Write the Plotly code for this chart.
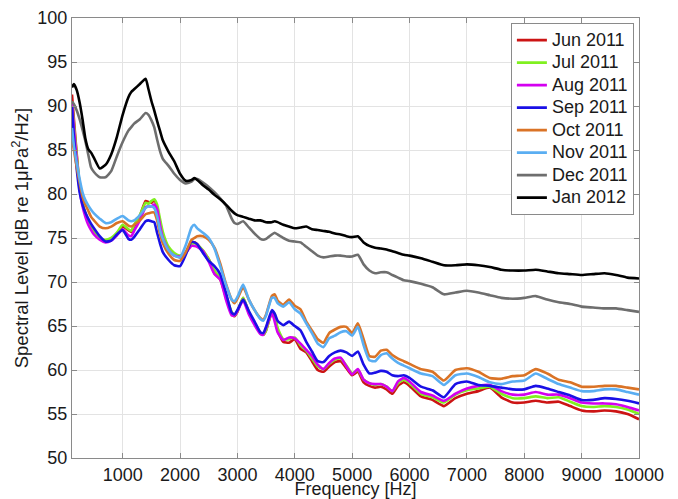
import plotly.graph_objects as go

freq_hz = [117, 150, 200, 250, 300, 350, 400, 450, 500,
           600, 700, 800, 900, 1000,
           1100, 1150, 1200, 1300,
           1400, 1450, 1500, 1550, 1600, 1650, 1700,
           1800, 1900, 2000, 2100, 2200, 2250, 2300,
           2400, 2500, 2600, 2700, 2800, 2900, 2950,
           3000, 3100, 3200, 3300, 3400, 3450, 3500, 3600, 3650,
           3700, 3800, 3900, 4000, 4100, 4200, 4300, 4400, 4500, 4600,
           4700, 4800, 4900, 5000, 5100, 5200, 5300, 5400, 5500, 5600,
           5700, 5800, 5900, 6000,
           6200, 6400, 6600, 6800, 7000, 7200, 7400, 7600, 7800, 8000,
           8200, 8400, 8600, 8800, 9000, 9200, 9400, 9600, 9800, 10000]

series_names = ["Jun 2011", "Jul 2011", "Aug 2011", "Sep 2011",
                "Oct 2011", "Nov 2011", "Dec 2011", "Jan 2012"]

jun_2011 = [91.3, 88.5, 84.5, 81.0, 79.0, 77.8, 77.0, 76.3, 75.8,
            75.0, 74.6, 74.8, 75.5, 76.3,
            75.9, 75.7, 76.3, 77.5,
            79.2, 79.1, 79.0, 79.3, 78.5, 76.8, 75.3,
            73.8, 73.2, 72.8, 73.3, 74.3, 74.5, 74.3,
            73.5, 72.6, 71.0, 70.3, 68.3, 66.5, 66.1,
            66.6, 68.2, 66.5, 65.3, 64.2, 64.0, 64.5, 66.5, 66.2,
            64.5, 63.2, 63.1, 63.5, 62.4, 62.0, 61.0, 60.0, 59.8, 60.4,
            60.9, 61.0, 60.2, 59.4, 59.8, 58.6, 58.2, 58.0, 58.1, 57.8,
            57.3, 58.2, 58.6, 58.2,
            57.0, 56.6, 55.9, 56.8, 57.3, 57.6, 58.0, 56.9, 56.3, 56.3,
            56.5, 56.3, 56.4, 55.9, 55.4, 55.3, 55.4, 55.3, 55.0, 54.4]

jul_2011 = [90.5, 88.0, 84.3, 81.0, 79.0, 77.8, 77.0, 76.3, 75.8,
            75.0, 74.8, 75.0, 75.6, 76.5,
            76.0, 75.8, 76.5, 77.6,
            79.0, 78.9, 79.2, 79.4, 78.8, 77.2, 75.7,
            74.0, 73.3, 73.0, 73.4, 74.3, 74.4, 74.2,
            73.6, 72.6, 71.3, 70.5, 68.5, 66.6, 66.2,
            66.7, 68.2, 66.6, 65.3, 64.2, 64.0, 64.5, 66.6, 66.4,
            64.8, 63.5, 63.5, 63.7, 62.8, 62.2, 61.3, 60.4, 60.1, 60.7,
            61.2, 61.3, 60.5, 59.6, 60.0, 58.9, 58.5, 58.3, 58.4, 58.1,
            57.6, 58.5, 58.9, 58.5,
            57.3, 56.9, 56.3, 57.2, 57.7, 57.9, 58.1, 57.3, 56.8, 56.8,
            57.0, 56.8, 56.9, 56.4, 55.9, 55.8, 55.9, 55.8, 55.5, 55.0]

aug_2011 = [90.3, 87.5, 83.8, 80.6, 78.6, 77.4, 76.5, 75.9, 75.4,
            74.8, 74.5, 74.7, 75.3, 76.0,
            75.3, 75.2, 75.8, 77.0,
            78.5, 78.6, 78.6, 78.8, 78.3, 76.5, 75.0,
            73.6, 73.0, 72.9, 73.3, 74.1, 74.1, 74.0,
            73.5, 72.3, 70.9, 70.3, 68.0, 66.2, 66.2,
            66.7, 67.9, 66.3, 65.1, 64.1, 64.0, 64.8, 66.5, 65.5,
            64.3, 63.4, 63.7, 63.6, 63.0, 62.3, 61.6, 60.6, 60.1, 60.8,
            61.3, 61.4, 60.4, 59.5, 60.1, 58.9, 58.5, 58.4, 58.4, 58.1,
            57.6, 58.7, 59.1, 58.7,
            57.5, 57.1, 56.5, 57.3, 57.9, 58.2, 58.3, 57.6, 57.2, 57.2,
            57.5, 57.2, 57.2, 56.8, 56.3, 56.2, 56.2, 56.1, 55.8, 55.4]

sep_2011 = [89.9, 86.5, 82.8, 80.2, 78.8, 77.9, 77.2, 76.6, 76.1,
            75.2, 74.6, 74.7, 75.4, 75.9,
            74.9, 74.8, 75.1, 76.0,
            76.9, 77.0, 76.9, 76.8, 75.6, 74.4, 73.4,
            72.5, 71.9, 71.8, 73.1, 74.6, 74.5, 74.3,
            73.3, 72.4, 71.8, 70.9, 68.8, 66.5, 66.3,
            66.8, 68.0, 66.7, 65.5, 64.3, 64.2, 64.9, 66.8, 66.4,
            65.6, 65.1, 65.5, 65.0, 64.5, 63.2, 62.1, 61.0, 60.9, 61.6,
            62.0, 62.2, 62.0, 61.6, 62.1, 60.6, 59.6, 59.7, 59.9, 59.8,
            59.4, 59.3, 59.4, 59.1,
            58.1, 57.7, 56.9, 58.4, 58.7, 58.3, 58.2, 58.0, 57.8, 57.8,
            58.2, 57.9, 57.5, 57.1, 56.6, 56.6, 56.8, 56.7, 56.5, 56.2]

oct_2011 = [86.4, 85.0, 83.0, 81.3, 79.7, 78.8, 78.1, 77.4, 77.0,
            76.3, 76.1, 76.3, 76.7, 76.9,
            76.4, 76.3, 76.5, 77.0,
            77.7, 77.8, 77.9, 77.9, 77.0, 75.5, 74.4,
            73.2, 72.5, 72.4, 73.4, 74.8, 75.0, 75.2,
            75.2, 74.8, 73.9, 72.1, 69.8, 68.0, 67.6,
            68.1, 69.4, 68.0, 66.8, 65.9, 65.7, 66.3, 68.4, 68.6,
            67.9, 67.4, 68.0, 67.3, 66.9, 65.5, 64.5, 63.5, 63.1, 64.2,
            64.6, 64.9, 64.9, 64.2, 65.3, 63.5, 61.6, 61.5, 62.2, 62.3,
            61.7, 61.3, 61.0, 60.7,
            60.1, 59.8, 58.8, 60.0, 60.2, 59.8, 59.1, 59.0, 59.3, 59.4,
            60.1, 59.6, 58.9, 58.6, 58.1, 58.1, 58.2, 58.2, 58.0, 57.8]

nov_2011 = [87.5, 85.5, 83.5, 81.7, 80.2, 79.3, 78.7, 78.2, 77.8,
            77.2, 76.7, 76.8, 77.2, 77.5,
            77.0, 76.9, 77.0, 77.6,
            78.4, 78.6, 78.6, 78.4, 77.5, 75.9, 74.9,
            73.6, 73.0, 72.8, 74.2, 76.2, 76.5, 76.1,
            75.6, 75.0, 73.8, 71.8, 69.7, 68.0, 67.8,
            68.3, 69.7, 68.0, 66.8, 65.8, 65.6, 66.2, 68.2, 68.2,
            67.6, 67.2, 67.7, 66.9, 66.4, 65.3, 64.2, 63.0, 62.6, 63.6,
            63.9, 64.3, 64.4, 63.9, 64.9, 62.8, 61.1, 61.0, 61.7, 61.9,
            61.3, 60.8, 60.5, 60.2,
            59.6, 59.3, 58.3, 59.4, 59.6, 59.2, 58.6, 58.4, 58.7, 58.8,
            59.6, 59.0, 58.4, 58.0, 57.6, 57.6, 57.8, 57.8, 57.5, 57.2]

dec_2011 = [90.5, 90.2, 89.5, 88.5, 87.3, 86.0, 84.5, 83.0, 82.5,
            81.9, 81.9, 82.6, 84.3, 85.9,
            87.2, 87.6, 88.0, 88.5,
            89.2, 89.0, 88.4, 87.6, 86.2, 84.9, 84.0,
            83.2, 82.3, 81.6, 81.2, 81.4, 81.7, 81.7,
            81.3, 80.8, 80.2, 79.5, 78.7, 77.2, 76.7,
            76.6, 76.9, 76.2, 75.5, 74.9, 74.8, 74.9, 75.4, 75.6,
            75.4, 75.0, 74.7, 74.6, 74.5, 74.0, 73.5, 73.0, 72.8, 72.9,
            73.0, 73.0, 72.9, 72.9, 73.1, 72.0, 71.3, 71.0, 71.1, 71.1,
            70.8, 70.5, 70.2, 70.1,
            69.8, 69.4, 68.6, 68.8, 69.0, 68.8, 68.5, 68.2, 68.1, 68.2,
            68.4, 68.0, 67.7, 67.5, 67.2, 67.1, 67.0, 67.0, 66.8, 66.6]

jan_2012 = [92.1, 92.5, 91.8, 90.4, 88.5, 86.3, 85.1, 84.7, 84.1,
            82.9, 83.3, 84.5, 86.5, 89.0,
            91.0, 91.6, 91.9, 92.5,
            93.1, 91.9, 90.6, 89.5, 88.3, 87.2, 86.1,
            84.8, 83.7, 82.3, 81.5, 81.6, 81.8, 81.6,
            81.0, 80.5, 79.9, 79.4, 78.8, 78.1, 77.8,
            77.6, 77.4, 77.2, 77.0, 77.0, 76.9, 76.8, 76.8, 76.9,
            76.8, 76.5, 76.3, 76.1, 76.2, 76.3, 76.0, 75.9, 75.8, 75.7,
            75.5, 75.4, 75.2, 75.1, 75.2, 74.5, 74.1, 73.9, 73.8, 73.7,
            73.5, 73.3, 73.1, 73.0,
            72.7, 72.3, 71.9, 71.9, 72.0, 71.9, 71.7, 71.4, 71.3, 71.3,
            71.4, 71.2, 71.0, 70.9, 70.8, 70.9, 71.0, 70.8, 70.5, 70.4]

series_values = [jun_2011, jul_2011, aug_2011, sep_2011,
                 oct_2011, nov_2011, dec_2011, jan_2012]
series_colors = ["#CC1414", "#80F020", "#D400F0", "#1A10E6",
                 "#DA7326", "#5AAEF2", "#6E6E6E", "#000000"]

x_ticks = [1000, 2000, 3000, 4000, 5000, 6000, 7000, 8000, 9000, 10000]
x_tick_labels = ["1000", "2000", "3000", "4000", "5000",
                 "6000", "7000", "8000", "9000", "10000"]
y_ticks = [50, 55, 60, 65, 70, 75, 80, 85, 90, 95, 100]

for vals in series_values:
    assert len(vals) == len(freq_hz), len(vals)

fig = go.Figure()
for name, vals, col in zip(series_names, series_values, series_colors):
    fig.add_trace(go.Scatter(
        x=freq_hz, y=vals, mode="lines",
        name='<span style="font-size:18px">' + name + '</span>',
        line=dict(color=col, width=2.6, shape="spline", smoothing=0.5),
    ))

font_family = "Liberation Sans, Arial, sans-serif"
axis_common = dict(
    showgrid=True, gridcolor="#e3e3e3", gridwidth=1,
    showline=True, linecolor="#8a8a8a", linewidth=1, mirror="ticks",
    ticks="inside", ticklen=5, tickcolor="#8a8a8a",
    tickfont=dict(family=font_family, size=18, color="#1a1a1a"),
    zeroline=False, automargin=False,
)

# page body adds an 8px offset, so the figure is drawn 8px smaller
fig.update_layout(
    width=670, height=491,
    margin=dict(l=64, r=39, t=10, b=41, autoexpand=False),
    paper_bgcolor="white", plot_bgcolor="white",
    font=dict(family=font_family, size=18, color="#1a1a1a"),
    showlegend=True,
    legend=dict(
        x=0.991, y=0.989, xanchor="right", yanchor="top",
        bgcolor="white", bordercolor="#8a8a8a", borderwidth=1,
        font=dict(family=font_family, size=15, color="#1a1a1a"),
        tracegroupgap=0, itemwidth=30,
    ),
    xaxis=dict(range=[117, 10000], tickvals=x_ticks, ticktext=x_tick_labels,
               title=dict(text="Frequency [Hz]", standoff=4,
                          font=dict(family=font_family, size=18)),
               **axis_common),
    yaxis=dict(range=[50, 100], tickvals=y_ticks,
               title=dict(text="Spectral Level [dB re 1μPa<sup>2</sup>/Hz]", standoff=5,
                          font=dict(family=font_family, size=18.5)),
               **axis_common),
)

fig.write_html("out.html")
